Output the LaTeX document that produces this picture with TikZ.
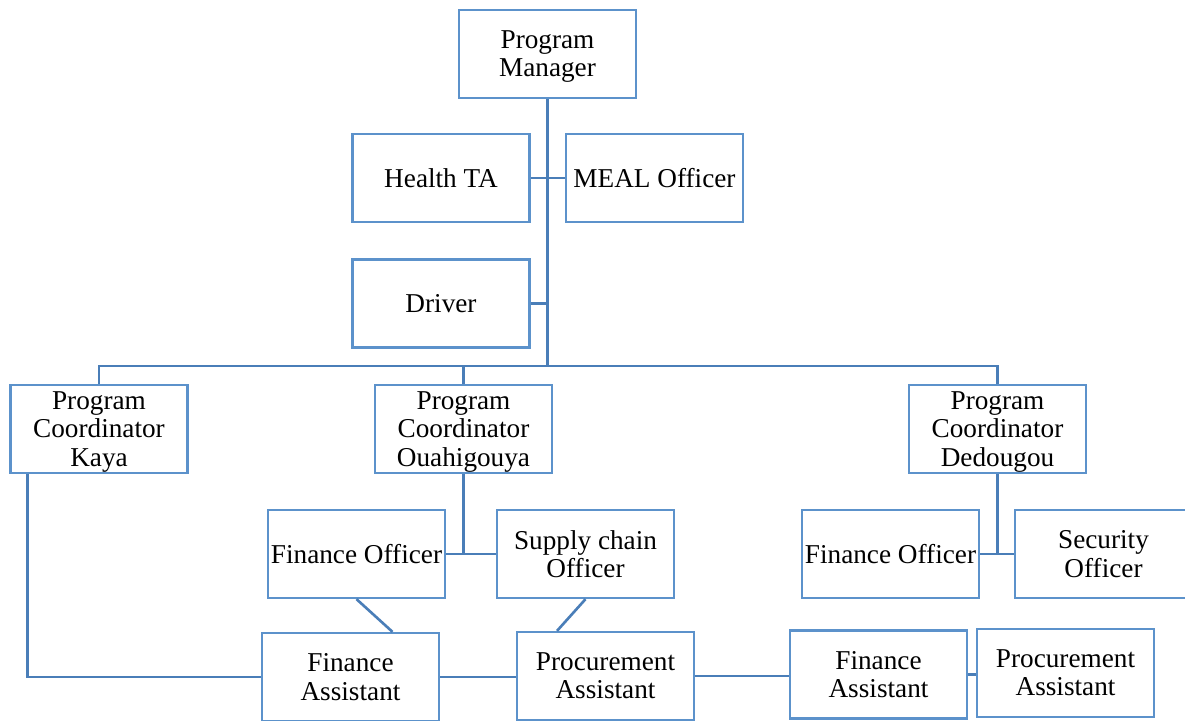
\documentclass[tikz,border=0pt]{standalone}
\usepackage{fontspec}
\setmainfont{Liberation Serif}
\usepackage{tikz}
\usetikzlibrary{positioning}
\definecolor{orgline}{RGB}{74,126,184}
\definecolor{boxedge}{RGB}{92,146,203}

\begin{document}
\begin{tikzpicture}[
        x=0.02cm, y=-0.02cm,
        box/.style={rectangle, draw=boxedge, line width=1.3pt, fill=white,
            minimum width=3.54cm, minimum height=1.76cm, inner sep=1pt,
            align=center, font=\fontsize{15.5}{16}\selectfont,
            text depth=0pt},
        conn/.style={draw=orgline, line width=1.5pt}
    ]
        \useasboundingbox (0,0) rectangle (1185,720);

        % 顶层
        \node[box] (pm) at (547.5,54) {Program\\Manager};
        \node[box] (healthta) at (441,178) {Health TA};
        \node[box] (meal) at (654.5,178) {MEAL Officer};
        \node[box] (driver) at (441,303.5) {Driver};

        % 协调员
        \node[box] (kaya) at (99,429) {Program\\Coordinator\\Kaya};
        \node[box] (ouahigouya) at (463.5,429) {Program\\Coordinator\\Ouahigouya};
        \node[box] (dedougou) at (997.5,429) {Program\\Coordinator\\Dedougou};

        % 官员
        \node[box] (finoffO) at (356.5,554) {Finance Officer};
        \node[box] (supply) at (585.5,554) {Supply chain\\Officer};
        \node[box] (finoffD) at (890.5,554) {Finance Officer};
        \node[box] (security) at (1103.5,554) {Security\\Officer};

        % 助理
        \node[box] (finassO) at (350.5,677) {Finance\\Assistant};
        \node[box] (procO) at (605.5,676) {Procurement\\Assistant};
        \node[box] (finassD) at (878.5,674.5) {Finance\\Assistant};
        \node[box] (procD) at (1065.5,673) {Procurement\\Assistant};

        % 主干与横线
        \coordinate (bus) at (547.5,366);
        \draw[conn] (pm.south) -- (bus);
        \draw[conn] (healthta.east) -- (meal.west);
        \draw[conn] (driver.east) -- (driver.east -| pm.south);
        \draw[conn] (kaya.north) |- (bus) -| (dedougou.north);
        \draw[conn] (ouahigouya.north) -- (ouahigouya.north |- bus);

        % 分支
        \draw[conn] (ouahigouya.south) -- (ouahigouya.south |- finoffO.east);
        \draw[conn] (finoffO.east) -- (supply.west);
        \draw[conn] (dedougou.south) -- (dedougou.south |- finoffD.east);
        \draw[conn] (finoffD.east) -- (security.west);
        \draw[conn] ([xshift=0.36cm]kaya.south west) |- (finassO.west);
        \draw[conn] (finoffO.south) -- ([xshift=0.84cm]finassO.north);
        \draw[conn] (supply.south) -- ([xshift=-0.97cm]procO.north);

        % 助理之间
        \draw[conn] (finassO.east) -- (finassO.east -| procO.west);
        \draw[conn] (procO.east) -- (procO.east -| finassD.west);
        \draw[conn] (finassD.east) -- (finassD.east -| procD.west);
    \end{tikzpicture}
\end{document}
